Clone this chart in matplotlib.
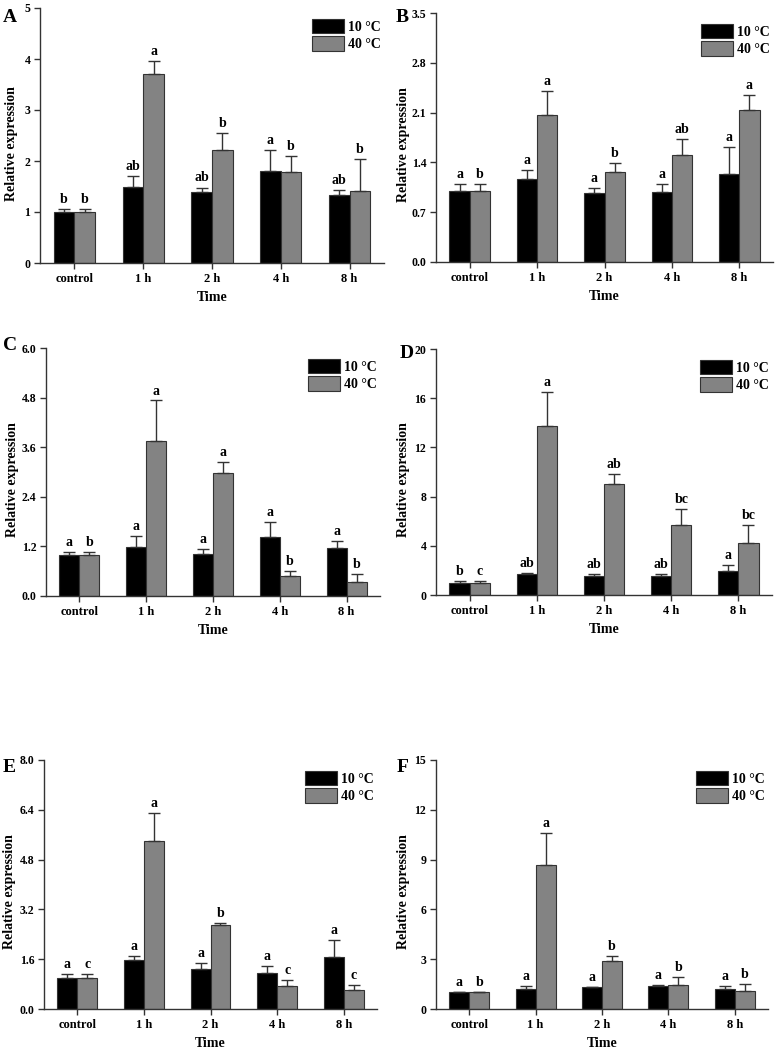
import numpy as np
import matplotlib.pyplot as plt

plt.rcParams['font.family'] = ['Liberation Serif', 'DejaVu Serif']
plt.rcParams['font.weight'] = 'bold'

times = ['control', '1 h', '2 h', '4 h', '8 h']

# panel A
a_10 = [1.00, 1.50, 1.39, 1.80, 1.33]
a_10_err = [0.05, 0.20, 0.09, 0.42, 0.10]
a_40 = [1.00, 3.71, 2.21, 1.78, 1.42]
a_40_err = [0.05, 0.25, 0.34, 0.32, 0.61]
a_lab10 = ['b', 'ab', 'ab', 'a', 'ab']
a_lab40 = ['b', 'a', 'b', 'b', 'b']

# panel B
b_10 = [1.00, 1.17, 0.97, 0.98, 1.24]
b_10_err = [0.09, 0.13, 0.07, 0.12, 0.37]
b_40 = [1.00, 2.06, 1.26, 1.51, 2.13]
b_40_err = [0.09, 0.35, 0.13, 0.22, 0.22]
b_lab10 = ['a', 'a', 'a', 'a', 'a']
b_lab40 = ['b', 'a', 'b', 'ab', 'a']

# panel C
c_10 = [1.00, 1.19, 1.02, 1.43, 1.16]
c_10_err = [0.06, 0.26, 0.11, 0.37, 0.17]
c_40 = [1.00, 3.76, 2.97, 0.49, 0.33]
c_40_err = [0.06, 0.97, 0.28, 0.12, 0.20]
c_lab10 = ['a', 'a', 'a', 'a', 'a']
c_lab40 = ['b', 'a', 'a', 'b', 'b']

# panel D
d_10 = [1.00, 1.73, 1.54, 1.52, 1.98]
d_10_err = [0.17, 0.08, 0.19, 0.16, 0.49]
d_40 = [1.00, 13.77, 9.05, 5.72, 4.25]
d_40_err = [0.17, 2.76, 0.76, 1.27, 1.41]
d_lab10 = ['b', 'ab', 'ab', 'ab', 'a']
d_lab40 = ['c', 'a', 'ab', 'bc', 'bc']

# panel E
e_10 = [1.00, 1.58, 1.29, 1.16, 1.66]
e_10_err = [0.11, 0.13, 0.18, 0.23, 0.56]
e_40 = [1.00, 5.41, 2.71, 0.73, 0.61]
e_40_err = [0.11, 0.90, 0.06, 0.19, 0.16]
e_lab10 = ['a', 'a', 'a', 'a', 'a']
e_lab40 = ['c', 'a', 'b', 'c', 'c']

# panel F
f_10 = [1.00, 1.20, 1.30, 1.38, 1.22]
f_10_err = [0.05, 0.18, 0.04, 0.06, 0.18]
f_40 = [1.00, 8.66, 2.91, 1.46, 1.08]
f_40_err = [0.05, 1.94, 0.30, 0.46, 0.40]
f_lab10 = ['a', 'a', 'a', 'a', 'a']
f_lab40 = ['b', 'a', 'b', 'b', 'b']

panels = [
    ('A', a_10, a_10_err, a_40, a_40_err, a_lab10, a_lab40, 5, [0, 1, 2, 3, 4, 5], '%d'),
    ('B', b_10, b_10_err, b_40, b_40_err, b_lab10, b_lab40, 3.5, [0, 0.7, 1.4, 2.1, 2.8, 3.5], '%.1f'),
    ('C', c_10, c_10_err, c_40, c_40_err, c_lab10, c_lab40, 6.0, [0, 1.2, 2.4, 3.6, 4.8, 6.0], '%.1f'),
    ('D', d_10, d_10_err, d_40, d_40_err, d_lab10, d_lab40, 20, [0, 4, 8, 12, 16, 20], '%d'),
    ('E', e_10, e_10_err, e_40, e_40_err, e_lab10, e_lab40, 8.0, [0, 1.6, 3.2, 4.8, 6.4, 8.0], '%.1f'),
    ('F', f_10, f_10_err, f_40, f_40_err, f_lab10, f_lab40, 15, [0, 3, 6, 9, 12, 15], '%d'),
]

# layout in pixels: axes box (left, right, top, bottom), ylabel x, panel letter (x, y)
W, H = 778, 1051
boxes = [(40, 384, 8, 263), (436, 773, 13, 262),
         (46, 380, 348, 596), (436, 772, 349, 595),
         (44, 377, 760, 1009), (436, 768, 760, 1009)]
ylab_x = [12, 403, 13, 403, 10, 403]
letters_xy = [(3, 17), (396, 17), (3, 345), (400, 353), (3, 768), (397, 767)]

fig = plt.figure(figsize=(W / 100, H / 100), dpi=100)

x = np.arange(len(times))
w = 0.3
edge = '#333333'
grey = '#838383'
ekw = dict(ecolor=edge, elinewidth=1, capsize=4, capthick=1)

for k, (name, v10, e10, v40, e40, l10, l40, ymax, ticks, fmt) in enumerate(panels):
    l, r, t, b = boxes[k]
    wpx, hpx = r - l, b - t
    ax = fig.add_axes([l / W, 1 - b / H, wpx / W, hpx / H])
    ax.bar(x - w / 2, v10, w, color='black', edgecolor=edge, linewidth=0.8, label='10 °C',
           yerr=[np.zeros(5), e10], error_kw=ekw)
    ax.bar(x + w / 2, v40, w, color=grey, edgecolor=edge, linewidth=0.8, label='40 °C',
           yerr=[np.zeros(5), e40], error_kw=ekw)
    pad = ymax * 0.012
    for i in range(5):
        ax.text(x[i] - w / 2, v10[i] + e10[i] + pad, l10[i], ha='center', va='bottom',
                fontsize=10, fontweight='bold')
        ax.text(x[i] + w / 2, v40[i] + e40[i] + pad, l40[i], ha='center', va='bottom',
                fontsize=10, fontweight='bold')
    ax.set_xlim(-0.5, 4.5)
    ax.set_ylim(0, ymax)
    ax.set_yticks(ticks)
    ax.set_yticklabels([fmt % v for v in ticks], fontsize=8.5, fontweight='bold')
    ax.set_xticks(x)
    ax.set_xticklabels(times, fontsize=9, fontweight='bold')
    ax.tick_params(direction='out', length=4, width=1, color=edge, pad=3)
    ax.spines['top'].set_visible(False)
    ax.spines['right'].set_visible(False)
    for s in ['left', 'bottom']:
        ax.spines[s].set_color(edge)
        ax.spines[s].set_linewidth(1)
    ax.set_xlabel('Time', fontsize=10, fontweight='bold')
    ax.xaxis.set_label_coords(0.5, -28 / hpx)
    ax.set_ylabel('Relative expression', fontsize=10, fontweight='bold')
    ax.yaxis.label.set_va('center')
    ax.yaxis.set_label_coords((ylab_x[k] - l) / wpx, 0.47)
    ax.legend(loc='upper right', bbox_to_anchor=(1.0, 1 - 8 / hpx), frameon=False,
              handlelength=2.3, handleheight=1.2, labelspacing=0.2, handletextpad=0.3,
              borderaxespad=0.0, borderpad=0.2, prop=dict(weight='bold', size=10))
    lx, ly = letters_xy[k]
    fig.text(lx / W, 1 - ly / H, name, fontsize=14, fontweight='bold',
             ha='left', va='center')

fig.savefig('out.png', dpi=100)
